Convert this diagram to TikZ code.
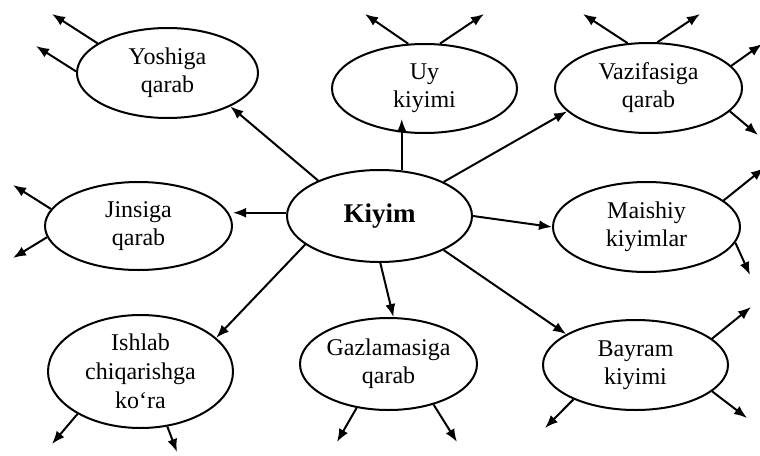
\documentclass[tikz,border=0pt]{standalone}
\usepackage{fontspec}
\setmainfont{Liberation Serif}
\usetikzlibrary{shapes.geometric,arrows.meta}
\tikzset{
  >={Latex[length=13pt,width=10pt]},
  ell/.style={ellipse, draw, line width=2pt, inner sep=0pt, align=center,
    font=\fontsize{24}{28}\selectfont, minimum width=185pt, minimum height=90pt},
  conn/.style={->, line width=2pt},
}
\begin{document}
\begin{tikzpicture}[x=1pt,y=-1pt]
\useasboundingbox (0,0) rectangle (760,455);
% nodes
\node[ell, font=\bfseries\fontsize{27}{30}\selectfont, minimum height=92pt] (kiyim) at (379.5,216) {Kiyim};
\node[ell, minimum width=181pt] (yosh) at (167.5,73) {Yoshiga\\qarab};
\node[ell, minimum height=89pt] (uy) at (424.5,88.5) {Uy\\kiyimi};
\node[ell, minimum width=187pt] (vaz) at (648.5,88) {Vazifasiga\\qarab};
\node[ell, minimum width=187pt, minimum height=88pt] (jins) at (138.5,226) {Jinsiga\\qarab};
\node[ell, minimum width=187pt] (mai) at (646.5,227) {Maishiy\\kiyimlar};
\node[ell, minimum height=113pt, font=\fontsize{24}{29}\selectfont] (ish) at (140.5,371.5) {Ishlab\\chiqarishga\\ko‘ra};
\node[ell, minimum width=177pt, minimum height=92pt] (gaz) at (388.5,364) {Gazlamasiga\\qarab};
\node[ell] (bay) at (635.5,365) {Bayram\\kiyimi};
% free ends
\coordinate (y1) at (52,14);   \coordinate (y2) at (36,46);
\coordinate (u1) at (365,14);  \coordinate (u2) at (484,14);
\coordinate (v1) at (583,14);  \coordinate (v2) at (700,14);
\coordinate (v3) at (762,44);  \coordinate (v4) at (758,135);
\coordinate (j1) at (13,185);  \coordinate (j2) at (13,258);
\coordinate (m1) at (764,168); \coordinate (m2) at (750,275);
\coordinate (i1) at (52,444);  \coordinate (i2) at (177,452);
\coordinate (g1) at (337,442); \coordinate (g2) at (457,442);
\coordinate (b1) at (751,307); \coordinate (b2) at (747,418);
\coordinate (b3) at (545,428);
% connectors from Kiyim
\draw[conn] (kiyim.150.75) -- (yosh.-28.1);
\draw[conn, shorten >=-15pt] (kiyim.64.5) -- (kiyim.64.5 |- uy.south);
\draw[conn] (kiyim.28.1) -- (vaz.196);
\draw[conn] (kiyim.178) -- (kiyim.178 -| jins.east);
\draw[conn] (kiyim.-0.6) -- (mai.180);
\draw[conn] (kiyim.201) -- (ish.24.8);
\draw[conn] (kiyim.-89.4) -- (gaz.84.3);
\draw[conn] (kiyim.-28.1) -- (bay.156.3);
% outgoing arrows
\draw[conn] (yosh.157.5) -- (y1);
\draw[conn] (yosh.179.4) -- (y2);
\draw[conn] (uy.110) -- (u1);
\draw[conn] (uy.71.2) -- (u2);
\draw[conn] (vaz.115.5) -- (v1);
\draw[conn] (vaz.79.3) -- (v2);
\draw[conn] (vaz.15.4) -- (v3);
\draw[conn] (vaz.-16.2) -- (v4);
\draw[conn] (jins.169.5) -- (j1);
\draw[conn] (jins.187.7) -- (j2);
\draw[conn] (mai.19) -- (m1);
\draw[conn] (mai.-10.2) -- (m2);
\draw[conn] (ish.214.4) -- (i1);
\draw[conn] (ish.-64) -- (i2);
\draw[conn] (gaz.234.4) -- (g1);
\draw[conn] (gaz.-42.8) -- (g2);
\draw[conn] (bay.19.2) -- (b1);
\draw[conn] (bay.-19.2) -- (b2);
\draw[conn] (bay.209.2) -- (b3);
\end{tikzpicture}
\end{document}
